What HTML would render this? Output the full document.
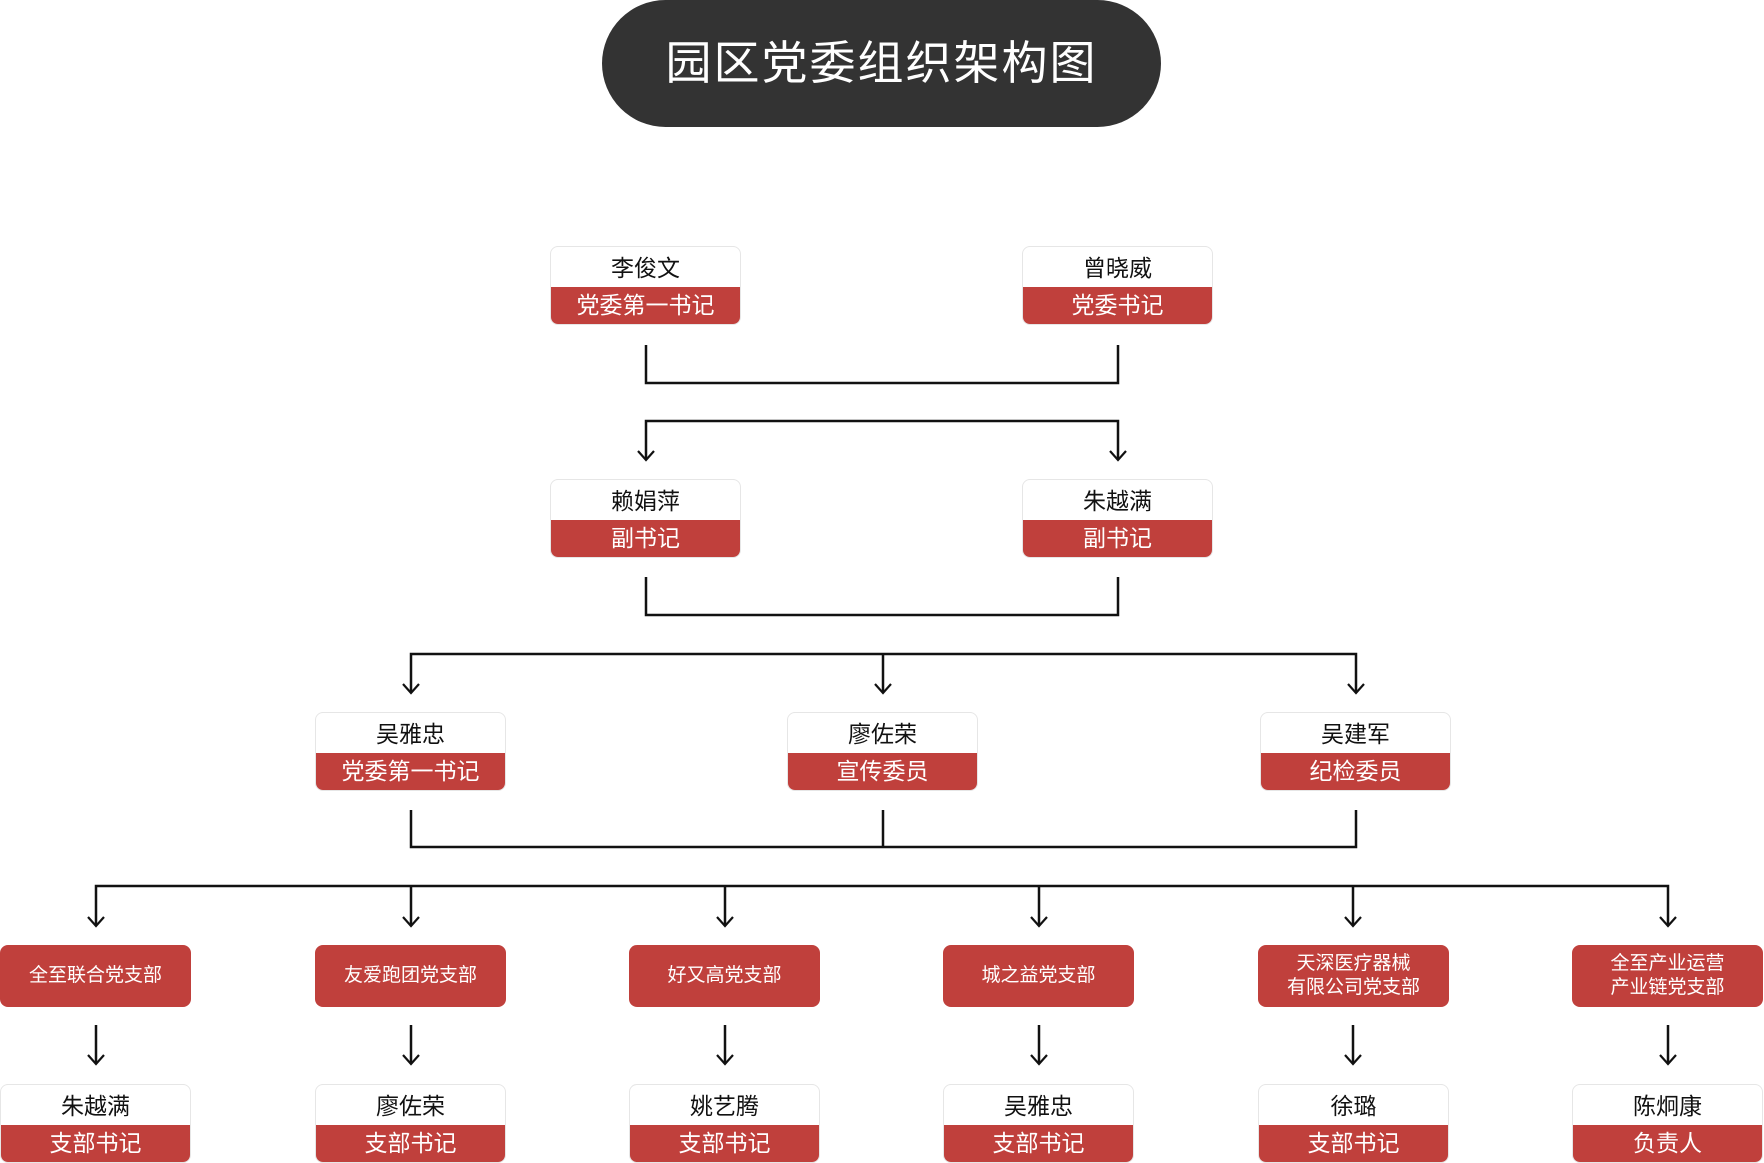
<!DOCTYPE html>
<html><head><meta charset="utf-8"><style>
body{margin:0;width:1764px;height:1163px;background:#fff;position:relative;overflow:hidden;font-family:"Liberation Sans","Noto Sans CJK SC",sans-serif}
.t{position:absolute;left:602px;top:0;width:559px;height:127px;border-radius:64px;background:#333;color:#fff;font-size:46px;text-align:center;line-height:127px;letter-spacing:2px}
.b{position:absolute;width:189px;height:77px;border:1px solid #e6e6e6;border-radius:8px;overflow:hidden;background:#fff}
.b .n{height:40px;line-height:42px;text-align:center;font-size:23px;color:#111}
.b .r{height:37px;line-height:37px;text-align:center;font-size:23px;color:#fff;background:#c0403c}
.d{position:absolute;width:191px;height:62px;border-radius:8px;background:#c0403c;color:#fff;font-size:19px;display:flex;align-items:center;justify-content:center;text-align:center;line-height:24px}
svg{position:absolute;left:0;top:0}
</style></head><body>
<div class="t">园区党委组织架构图</div>
<svg width="1764" height="1163" fill="none" stroke="#111" stroke-width="2.5">
<path d="M646 345V383H1118V345"/>
<path d="M646 460V421H1118V460"/>
<path d="M646 577V615H1118V577"/>
<path d="M411 693V654H1356V693M883 654V693"/>
<path d="M411 810V847H1356V810M883 810V847"/>
<path d="M96 926V886H1668V926M411 886V926M725 886V926M1039 886V926M1353 886V926"/>
<path d="M96 1025V1064M411 1025V1064M725 1025V1064M1039 1025V1064M1353 1025V1064M1668 1025V1064"/>
<g stroke-width="2.2">
<path d="M638 451L646 460L654 451M1110 451L1118 460L1126 451"/>
<path d="M403 684L411 693L419 684M875 684L883 693L891 684M1348 684L1356 693L1364 684"/>
<path d="M88 917L96 926L104 917M403 917L411 926L419 917M717 917L725 926L733 917M1031 917L1039 926L1047 917M1345 917L1353 926L1361 917M1660 917L1668 926L1676 917"/>
<path d="M88 1055L96 1064L104 1055M403 1055L411 1064L419 1055M717 1055L725 1064L733 1055M1031 1055L1039 1064L1047 1055M1345 1055L1353 1064L1361 1055M1660 1055L1668 1064L1676 1055"/>
</g></svg>
<div class="b" style="left:550px;top:246px"><div class="n">李俊文</div><div class="r">党委第一书记</div></div>
<div class="b" style="left:1022px;top:246px"><div class="n">曾晓威</div><div class="r">党委书记</div></div>
<div class="b" style="left:550px;top:479px"><div class="n">赖娟萍</div><div class="r">副书记</div></div>
<div class="b" style="left:1022px;top:479px"><div class="n">朱越满</div><div class="r">副书记</div></div>
<div class="b" style="left:315px;top:712px"><div class="n">吴雅忠</div><div class="r">党委第一书记</div></div>
<div class="b" style="left:787px;top:712px"><div class="n">廖佐荣</div><div class="r">宣传委员</div></div>
<div class="b" style="left:1260px;top:712px"><div class="n">吴建军</div><div class="r">纪检委员</div></div>
<div class="d" style="left:0;top:945px">全至联合党支部</div>
<div class="d" style="left:315px;top:945px">友爱跑团党支部</div>
<div class="d" style="left:629px;top:945px">好又高党支部</div>
<div class="d" style="left:943px;top:945px">城之益党支部</div>
<div class="d" style="left:1258px;top:945px">天深医疗器械<br>有限公司党支部</div>
<div class="d" style="left:1572px;top:945px">全至产业运营<br>产业链党支部</div>
<div class="b" style="left:0;top:1084px"><div class="n">朱越满</div><div class="r">支部书记</div></div>
<div class="b" style="left:315px;top:1084px"><div class="n">廖佐荣</div><div class="r">支部书记</div></div>
<div class="b" style="left:629px;top:1084px"><div class="n">姚艺腾</div><div class="r">支部书记</div></div>
<div class="b" style="left:943px;top:1084px"><div class="n">吴雅忠</div><div class="r">支部书记</div></div>
<div class="b" style="left:1258px;top:1084px"><div class="n">徐璐</div><div class="r">支部书记</div></div>
<div class="b" style="left:1572px;top:1084px"><div class="n">陈炯康</div><div class="r">负责人</div></div>
</body></html>
